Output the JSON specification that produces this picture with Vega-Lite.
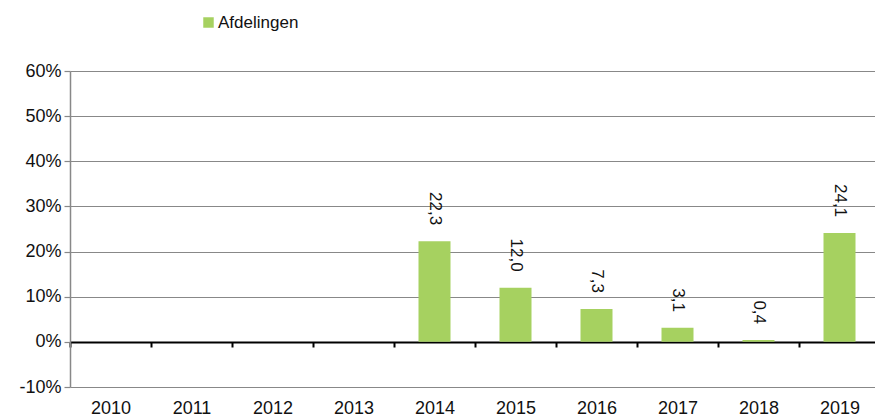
{
  "$schema": "https://vega.github.io/schema/vega-lite/v6.json",
  "autosize": "none",
  "width": 810,
  "height": 316,
  "padding": {"left": 70, "top": 71, "right": 0, "bottom": 30},
  "background": "white",
  "config": {
    "view": {"stroke": null},
    "font": "Liberation Sans",
    "axis": {"labelFont": "Liberation Sans", "labelFontSize": 18, "labelColor": "#111"}
  },
  "data": {
    "values": [
      {"year": "2014", "value": 0.223, "label": "22,3", "series": "Afdelingen"},
      {"year": "2015", "value": 0.120, "label": "12,0", "series": "Afdelingen"},
      {"year": "2016", "value": 0.073, "label": "7,3", "series": "Afdelingen"},
      {"year": "2017", "value": 0.031, "label": "3,1", "series": "Afdelingen"},
      {"year": "2018", "value": 0.004, "label": "0,4", "series": "Afdelingen"},
      {"year": "2019", "value": 0.241, "label": "24,1", "series": "Afdelingen"}
    ]
  },
  "encoding": {
    "x": {
      "field": "year",
      "type": "nominal",
      "title": null,
      "scale": {"domain": ["2010","2011","2012","2013","2014","2015","2016","2017","2018","2019"], "paddingInner": 0, "paddingOuter": 0},
      "axis": {
        "orient": "bottom",
        "offset": -45,
        "labelAngle": 0,
        "domainColor": "#000",
        "domainWidth": 2,
        "tickColor": "#000",
        "tickWidth": 2,
        "tickSize": 5,
        "tickBand": "extent",
        "labelPadding": 52,
        "grid": false
      }
    },
    "y": {
      "field": "value",
      "type": "quantitative",
      "title": null,
      "scale": {"domain": [-0.1, 0.6], "nice": false, "zero": false},
      "axis": {
        "format": ".0%",
        "labelExpr": "replace(datum.label, '−', '-')",
        "values": [-0.1, 0, 0.1, 0.2, 0.3, 0.4, 0.5, 0.6],
        "grid": true,
        "gridColor": "#888",
        "gridWidth": 1.2,
        "gridOpacity": 1,
        "domainColor": "#888",
        "domainWidth": 1.5,
        "tickColor": "#888",
        "tickSize": 6,
        "tickWidth": 1.2,
        "labelPadding": 3
      }
    }
  },
  "layer": [
    {
      "mark": {"type": "bar", "size": 32},
      "encoding": {
        "color": {
          "field": "series",
          "type": "nominal",
          "scale": {"range": ["#a6d160"]},
          "legend": {
            "title": null,
            "orient": "none",
            "legendX": 130,
            "legendY": -57,
            "symbolType": "square",
            "symbolSize": 110,
            "symbolOpacity": 1,
            "symbolStrokeWidth": 0,
            "labelFontSize": 17,
            "labelFont": "Liberation Sans",
            "labelColor": "#111",
            "labelOffset": 1
          }
        },
        "y2": {"datum": 0}
      }
    },
    {
      "mark": {"type": "text", "angle": 90, "align": "right", "baseline": "middle", "dx": -16, "fontSize": 17, "font": "Liberation Sans", "color": "#111"},
      "encoding": {"text": {"field": "label"}}
    }
  ]
}
